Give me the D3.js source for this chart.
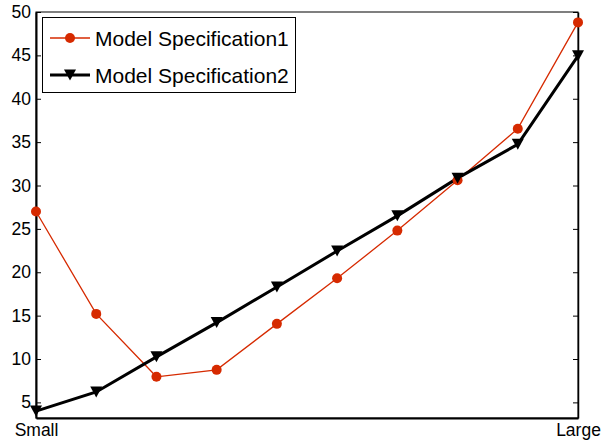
<!DOCTYPE html>
<html><head><meta charset="utf-8">
<script src="https://cdn.jsdelivr.net/npm/d3@7"></script>
<style>body{margin:0;background:#fff}svg{display:block;font-family:"Liberation Sans",Arial,sans-serif}</style>
</head><body>
<svg id="c" width="602" height="447"></svg>
<script>
const categories = [1,2,3,4,5,6,7,8,9,10];
const xTickLabels = ["Small","Large"];
const series1 = [27.0,15.2,7.95,8.75,14.05,19.3,24.8,30.6,36.55,48.8];
const series2 = [4.0,6.2,10.25,14.2,18.3,22.45,26.5,30.85,34.75,44.95];
const seriesNames = ["Model Specification1","Model Specification2"];
const yTicks = [5,10,15,20,25,30,35,40,45,50];

const W=602,H=447,m={l:36,r:24,t:12,b:29};
const svg=d3.select("#c");
const x=d3.scaleLinear().domain([1,10]).range([m.l,W-m.r]);
const y=d3.scaleLinear().domain([3.2,50]).range([H-m.b,m.t]);
const red="#d62a00";

// frame
svg.append("rect").attr("x",m.l).attr("y",m.t).attr("width",W-m.l-m.r).attr("height",H-m.t-m.b)
  .attr("fill","none").attr("stroke","#000").attr("stroke-width",1);

// left axis (inward ticks)
const ya=svg.append("g").attr("transform",`translate(${m.l},0)`)
  .call(d3.axisLeft(y).tickValues(yTicks).tickSizeInner(-5).tickSizeOuter(0).tickPadding(5));
ya.select(".domain").attr("stroke-width",2);
ya.selectAll("text").attr("font-size",17.5).attr("fill","#000").attr("font-family","Liberation Sans, Arial, sans-serif");
// right axis ticks
const yr=svg.append("g").attr("transform",`translate(${W-m.r},0)`)
  .call(d3.axisRight(y).tickValues(yTicks).tickSizeInner(-5).tickSizeOuter(0).tickFormat(""));
yr.select(".domain").attr("stroke-width",1.5);
// bottom axis
const xa=svg.append("g").attr("transform",`translate(0,${H-m.b})`)
  .call(d3.axisBottom(x).tickValues([1,10]).tickSize(0).tickPadding(6).tickFormat((d,i)=>xTickLabels[i]));
xa.select(".domain").attr("stroke-width",2);
xa.selectAll("text").attr("font-size",17.5).attr("fill","#000").attr("font-family","Liberation Sans, Arial, sans-serif");

const line=d3.line().x((d,i)=>x(categories[i])).y(d=>y(d));
const tri="M-6,-5.5L6,-5.5L0,5.5Z";

svg.append("path").datum(series1).attr("d",line).attr("fill","none").attr("stroke",red).attr("stroke-width",1.3);
svg.append("path").datum(series2).attr("d",line).attr("fill","none").attr("stroke","#000").attr("stroke-width",3);
svg.selectAll("circle.s1").data(series1).join("circle").attr("class","s1")
  .attr("cx",(d,i)=>x(categories[i])).attr("cy",d=>y(d)).attr("r",5).attr("fill",red);
svg.selectAll("path.s2").data(series2).join("path").attr("class","s2")
  .attr("transform",(d,i)=>`translate(${x(categories[i])},${y(d)})`).attr("d",tri).attr("fill","#000");

// legend
const lg=svg.append("g");
lg.append("rect").attr("x",42.5).attr("y",17.5).attr("width",253).attr("height",75).attr("fill","#fff").attr("stroke","#000").attr("stroke-width",1);
const rows=[38,75];
lg.append("line").attr("x1",50).attr("x2",90).attr("y1",rows[0]).attr("y2",rows[0]).attr("stroke",red).attr("stroke-width",1.3);
lg.append("circle").attr("cx",70).attr("cy",rows[0]).attr("r",5).attr("fill",red);
lg.append("line").attr("x1",50).attr("x2",90).attr("y1",rows[1]).attr("y2",rows[1]).attr("stroke","#000").attr("stroke-width",3);
lg.append("path").attr("transform",`translate(70,${rows[1]})`).attr("d",tri).attr("fill","#000");
seriesNames.forEach((n,i)=>lg.append("text").attr("x",95).attr("y",rows[i]).attr("dy","0.36em")
  .attr("font-size",21).attr("fill","#000").text(n));
</script>
</body></html>
